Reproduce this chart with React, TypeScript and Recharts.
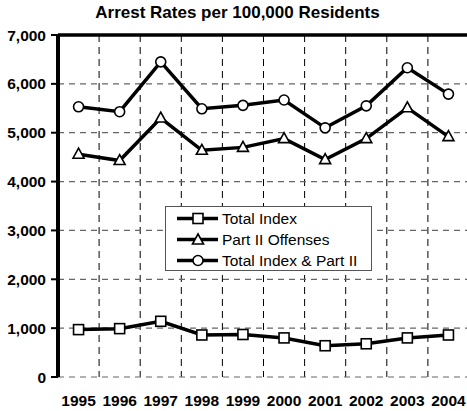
import React from "react";
import {
  LineChart,
  Line,
  XAxis,
  YAxis,
  CartesianGrid,
  ReferenceLine,
} from "recharts";

const years = ["1995", "1996", "1997", "1998", "1999", "2000", "2001", "2002", "2003", "2004"];
const totalIndex = [970, 990, 1140, 860, 870, 800, 640, 680, 800, 860];
const partII = [4560, 4430, 5300, 4640, 4700, 4880, 4450, 4880, 5510, 4920];
const totalAll = [5530, 5430, 6450, 5490, 5560, 5670, 5100, 5550, 6330, 5790];
const yTicks = [0, 1000, 2000, 3000, 4000, 5000, 6000, 7000];
const boundaryTicks = [0, 1, 2, 3, 4, 5, 6, 7, 8, 9, 10];
const centerTicks = years.map((_, i) => i + 0.5);

const data = years.map((y, i) => ({
  x: i + 0.5,
  year: y,
  totalIndex: totalIndex[i],
  partII: partII[i],
  totalAll: totalAll[i],
}));

const FONT = "'Liberation Sans', Arial, sans-serif";

const SquareDot = (p: any) => {
  const { cx, cy, key } = p;
  if (cx == null || cy == null) return null;
  return <rect key={key} x={cx - 5} y={cy - 5} width={10} height={10} fill="#fff" stroke="#000" strokeWidth={1.6} />;
};
const TriDot = (p: any) => {
  const { cx, cy, key } = p;
  if (cx == null || cy == null) return null;
  return (
    <polygon
      key={key}
      points={`${cx},${cy - 6} ${cx + 5.5},${cy + 4} ${cx - 5.5},${cy + 4}`}
      fill="#fff"
      stroke="#000"
      strokeWidth={1.6}
    />
  );
};
const CircDot = (p: any) => {
  const { cx, cy, key } = p;
  if (cx == null || cy == null) return null;
  return <circle key={key} cx={cx} cy={cy} r={5} fill="#fff" stroke="#000" strokeWidth={1.6} />;
};

const legendItems = [
  { label: "Total Index", shape: "square" },
  { label: "Part II Offenses", shape: "tri" },
  { label: "Total Index & Part II", shape: "circle" },
];

const LegendBox = () => (
  <div
    style={{
      position: "absolute",
      left: 165,
      top: 206,
      width: 207,
      height: 65,
      border: "1px solid #555",
      background: "#fff",
      boxSizing: "border-box",
      paddingTop: 1,
    }}
  >
    {legendItems.map((it) => (
      <div key={it.label} style={{ display: "flex", alignItems: "center", height: 21 }}>
        <svg width={56} height={21} style={{ flex: "none" }}>
          <line x1={11} y1={10.5} x2={52} y2={10.5} stroke="#000" strokeWidth={3.5} />
          {it.shape === "square" && <SquareDot cx={32} cy={10.5} />}
          {it.shape === "tri" && <TriDot cx={32} cy={11} />}
          {it.shape === "circle" && <CircDot cx={32} cy={10.5} />}
        </svg>
        <span style={{ fontFamily: FONT, fontSize: 15.5, color: "#000", whiteSpace: "nowrap" }}>{it.label}</span>
      </div>
    ))}
  </div>
);

const fmt = (v: number) => v.toLocaleString("en-US");
const EmptyTick = () => <g />;

export default function App() {
  return (
    <div style={{ position: "absolute", left: 0, top: 0, width: 467, height: 411, overflow: "hidden", background: "#fff" }}>
      <div
        style={{
          position: "absolute",
          left: 0,
          width: 475,
          top: 3,
          textAlign: "center",
          fontFamily: FONT,
          fontWeight: "bold",
          fontSize: 17,
          color: "#000",
        }}
      >
        Arrest Rates per 100,000 Residents
      </div>
      <LineChart
        width={469}
        height={411}
        data={data}
        margin={{ top: 35, right: 0, bottom: 0, left: 0 }}
        style={{ position: "absolute", left: 0, top: 0 }}
      >
        <CartesianGrid
          stroke="#000"
          strokeDasharray="7 5"
          strokeWidth={1}
          horizontal={false}
        />
        <CartesianGrid
          stroke="#666"
          strokeDasharray="6 5"
          strokeWidth={1.2}
          vertical={false}
        />
        <XAxis
          type="number"
          dataKey="x"
          domain={[0, 10]}
          ticks={boundaryTicks}
          interval={0}
          height={0}
          tick={EmptyTick}
          tickSize={6}
          tickLine={{ stroke: "#000", strokeWidth: 2 }}
          axisLine={{ stroke: "#000", strokeWidth: 4 }}
        />
        <XAxis
          xAxisId="lbl"
          type="number"
          dataKey="x"
          domain={[0, 10]}
          ticks={centerTicks}
          interval={0}
          height={34}
          axisLine={false}
          tickLine={false}
          tickSize={0}
          tickMargin={18}
          tickFormatter={(v: number) => years[Math.floor(v)]}
          tick={{ fontFamily: FONT, fontWeight: "bold", fontSize: 15.5, fill: "#000" }}
        />
        <YAxis
          type="number"
          domain={[0, 7000]}
          ticks={yTicks}
          interval={0}
          width={58}
          tickSize={7}
          tickMargin={5}
          tickFormatter={fmt}
          axisLine={{ stroke: "#000", strokeWidth: 4 }}
          tickLine={{ stroke: "#000", strokeWidth: 2 }}
          tick={{ fontFamily: FONT, fontWeight: "bold", fontSize: 15.5, fill: "#000" }}
        />
        <ReferenceLine y={7000} stroke="#000" strokeWidth={3.5} />
        <Line
          xAxisId="lbl"
          dataKey="totalIndex"
          stroke="#000"
          strokeWidth={3.5}
          dot={SquareDot}
          isAnimationActive={false}
        />
        <Line
          xAxisId="lbl"
          dataKey="partII"
          stroke="#000"
          strokeWidth={3.5}
          dot={TriDot}
          isAnimationActive={false}
        />
        <Line
          xAxisId="lbl"
          dataKey="totalAll"
          stroke="#000"
          strokeWidth={3.5}
          dot={CircDot}
          isAnimationActive={false}
        />
      </LineChart>
      <LegendBox />
    </div>
  );
}
